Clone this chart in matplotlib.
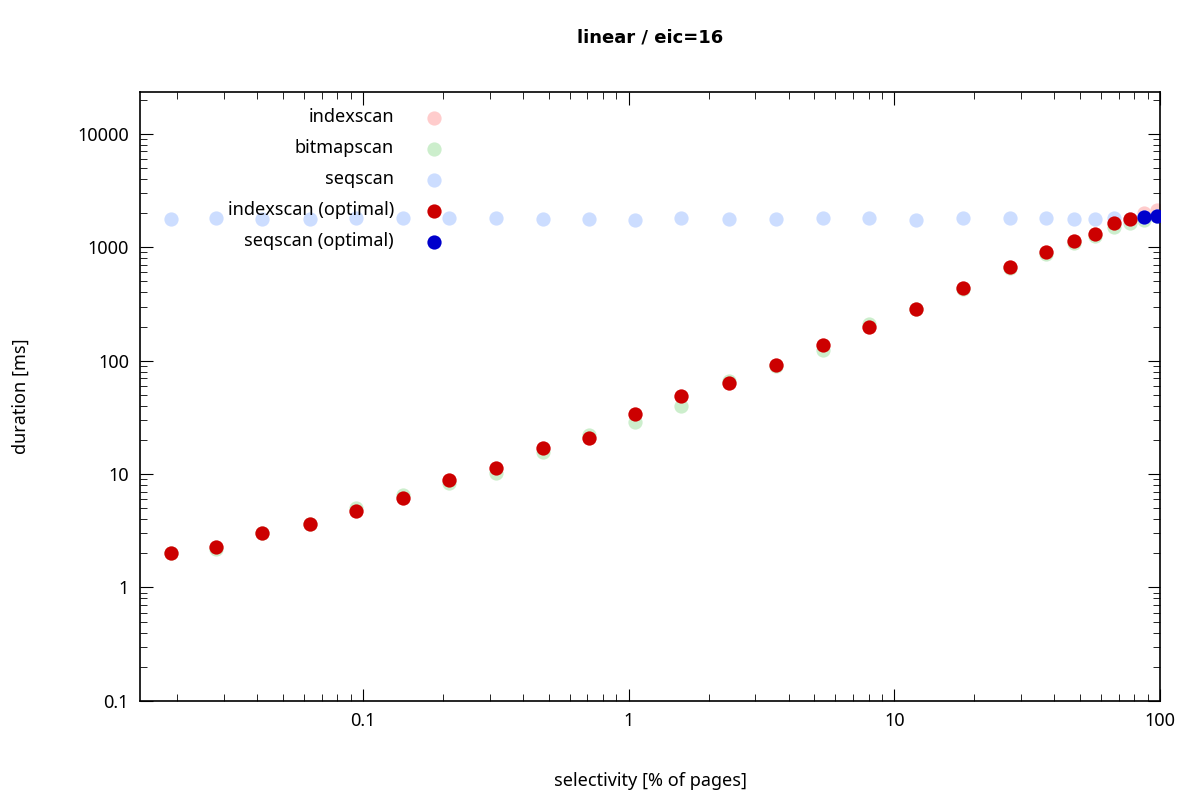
import matplotlib
matplotlib.use("Agg")
import matplotlib.pyplot as plt
from matplotlib.ticker import LogLocator, FixedLocator, NullFormatter

plt.rcParams["font.family"] = "Noto Sans"

# selectivity [% of pages]
sel = [0.0189, 0.028, 0.0417, 0.063, 0.094, 0.1415, 0.211, 0.316, 0.475, 0.71,
       1.06, 1.58, 2.38, 3.58, 5.38, 8.02, 12.05, 18.1, 27.2, 37.2,
       47.4, 56.9, 67, 77, 87, 97.5]
indexscan = [2.03, 2.25, 3.0, 3.6, 4.68, 6.2, 8.8, 11.4, 16.8, 20.6,
             33.6, 48.3, 63, 90.7, 136, 200, 288, 433, 664, 900,
             1125, 1297, 1622, 1758, 2000, 2150]
bitmapscan = [2.0, 2.2, 3.0, 3.6, 5.0, 6.5, 8.3, 10.3, 15.5, 22,
              28.5, 40, 66, 90, 123, 212, 285, 430, 650, 880,
              1100, 1250, 1500, 1650, 1750, 1900]
seqscan = [1760, 1800, 1790, 1780, 1810, 1800, 1800, 1800, 1780, 1790,
           1740, 1800, 1780, 1760, 1820, 1800, 1740, 1820, 1800, 1810,
           1760, 1790, 1800, 1790, 1860, 1900]
# optimal plan: index scan up to ~77 %, then seq scan
opt_idx_sel = sel[:24]
opt_idx = indexscan[:24]
opt_seq_sel = sel[24:]
opt_seq = [1865, 1900]

fig = plt.figure(figsize=(12, 8), dpi=100)
ax = fig.add_axes([0.1167, 0.124, 0.85, 0.761])
ms = 105
ax.scatter(sel, indexscan, s=ms, color="#ffcccc", label="indexscan", lw=0, zorder=2)
ax.scatter(sel, bitmapscan, s=ms, color="#cceecc", label="bitmapscan", lw=0, zorder=2)
ax.scatter(sel, seqscan, s=ms, color="#ccddff", label="seqscan", lw=0, zorder=2)
ax.scatter(opt_idx_sel, opt_idx, s=ms, color="#cc0000", label="indexscan (optimal)", lw=0, zorder=3)
ax.scatter(opt_seq_sel, opt_seq, s=ms, color="#0000cc", label="seqscan (optimal)", lw=0, zorder=3)

ax.set_xscale("log")
ax.set_yscale("log")
ax.set_xlim(0.0145, 100)
ax.set_ylim(0.1, 23400)
ax.xaxis.set_major_locator(FixedLocator([0.1, 1, 10, 100]))
ax.set_xticklabels(["0.1", "1", "10", "100"])
ax.yaxis.set_major_locator(FixedLocator([0.1, 1, 10, 100, 1000, 10000]))
ax.set_yticklabels(["0.1", "1", "10", "100", "1000", "10000"])
ax.xaxis.set_minor_locator(LogLocator(base=10, subs=range(2, 10)))
ax.yaxis.set_minor_locator(LogLocator(base=10, subs=range(2, 10)))
ax.xaxis.set_minor_formatter(NullFormatter())
ax.yaxis.set_minor_formatter(NullFormatter())
ax.tick_params(which="both", direction="in", top=True, right=True, labelsize=13)
ax.tick_params(which="major", length=9, pad=8)
ax.tick_params(which="minor", length=5)
for s in ax.spines.values():
    s.set_linewidth(1.2)

ax.set_xlabel("selectivity [% of pages]", fontsize=13, labelpad=30)
ax.set_ylabel("duration [ms]", fontsize=13, labelpad=34)
ax.set_title("linear / eic=16", fontsize=13, fontweight="bold",
             fontfamily="DejaVu Sans", pad=36)

ax.legend(loc="upper left", bbox_to_anchor=(0.07, 1.0), frameon=False, fontsize=13,
          markerfirst=False, handletextpad=1.2, labelspacing=0.72, scatterpoints=1)

fig.savefig("out.png")
